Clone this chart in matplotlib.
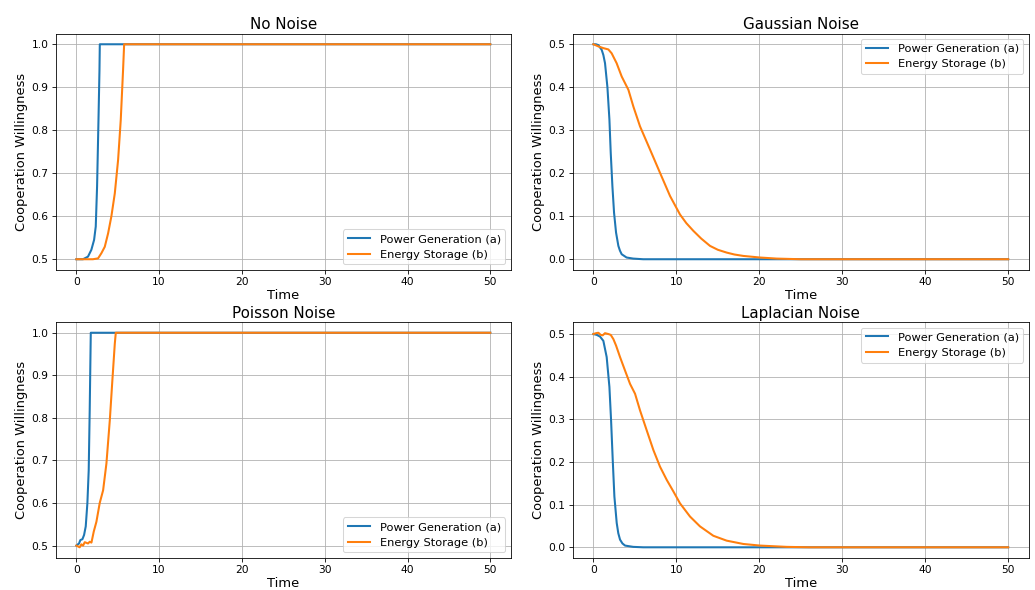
import matplotlib
matplotlib.use("Agg")
import matplotlib.pyplot as plt

# ---- No Noise ----
t_none_a = [0.0, 0.8, 1.4, 1.81, 2.14, 2.34, 2.5, 2.67, 2.79, 2.83, 50.0]
v_none_a = [0.5, 0.5, 0.506, 0.522, 0.545, 0.576, 0.669, 0.824, 0.94, 1.0, 1.0]
t_none_b = [0.0, 2.0, 2.62, 3.02, 3.43, 3.83, 4.23, 4.64, 5.04, 5.36, 5.64, 5.77, 50.0]
v_none_b = [0.5, 0.5, 0.502, 0.514, 0.529, 0.56, 0.60, 0.653, 0.731, 0.824, 0.94, 1.0, 1.0]

# ---- Gaussian Noise ----
t_gauss_a = [0.0, 0.3, 0.6, 1.0, 1.2, 1.4, 1.69, 1.93, 2.09, 2.29, 2.49, 2.73, 3.01, 3.2,
             3.41, 4.0, 4.8, 6.0, 50.0]
v_gauss_a = [0.5, 0.5, 0.498, 0.487, 0.475, 0.456, 0.40, 0.325, 0.247, 0.17, 0.108, 0.062,
             0.031, 0.02, 0.0116, 0.004, 0.0015, 0.0, 0.0]
t_gauss_b = [0.0, 0.6, 1.2, 1.8, 2.2, 2.8, 3.41, 4.22, 4.82, 5.62, 6.83, 8.03, 9.24, 10.44,
             11.2, 12.05, 13.0, 14.06, 15.0, 16.06, 17.0, 18.07, 20.08, 22.1, 25.0, 50.0]
v_gauss_b = [0.5, 0.495, 0.491, 0.488, 0.479, 0.456, 0.425, 0.394, 0.355, 0.309, 0.255, 0.201,
             0.147, 0.104, 0.084, 0.066, 0.048, 0.031, 0.022, 0.0155, 0.011, 0.0077, 0.004,
             0.0015, 0.0, 0.0]

# ---- Poisson Noise ----
t_pois_a = [0.0, 0.32, 0.48, 0.73, 0.93, 1.13, 1.33, 1.49, 1.61, 1.74, 50.0]
v_pois_a = [0.5, 0.505, 0.513, 0.515, 0.525, 0.545, 0.6, 0.677, 0.818, 1.0, 1.0]
t_pois_b = [0.0, 0.2, 0.4, 0.6, 0.81, 1.01, 1.41, 1.61, 1.82, 2.1, 2.42, 2.82, 3.23, 3.63,
            4.04, 4.32, 4.64, 4.76, 50.0]
v_pois_b = [0.5, 0.498, 0.496, 0.503, 0.5, 0.508, 0.505, 0.509, 0.507, 0.533, 0.556, 0.6,
            0.63, 0.693, 0.795, 0.88, 0.974, 1.0, 1.0]

# ---- Laplacian Noise ----
t_lap_a = [0.0, 0.4, 0.8, 1.2, 1.6, 1.93, 2.13, 2.33, 2.53, 2.81, 3.0, 3.21, 3.5, 3.82, 4.8,
           6.0, 50.0]
v_lap_a = [0.5, 0.498, 0.494, 0.484, 0.446, 0.376, 0.298, 0.205, 0.119, 0.057, 0.033, 0.018,
           0.009, 0.004, 0.001, 0.0, 0.0]
t_lap_b = [0.0, 0.32, 0.6, 0.88, 1.12, 1.4, 1.8, 2.09, 2.41, 2.73, 3.21, 3.82, 4.42, 5.02,
           5.62, 6.43, 7.23, 8.03, 8.84, 9.64, 10.44, 11.65, 12.85, 14.46, 16.06, 18.07,
           20.1, 23.3, 26.0, 50.0]
v_lap_b = [0.5, 0.502, 0.503, 0.498, 0.497, 0.502, 0.5, 0.498, 0.488, 0.473, 0.446, 0.414,
           0.383, 0.36, 0.321, 0.274, 0.228, 0.189, 0.158, 0.131, 0.103, 0.072, 0.049, 0.027,
           0.0156, 0.0078, 0.004, 0.001, 0.0, 0.0]

titles = ["No Noise", "Gaussian Noise", "Poisson Noise", "Laplacian Noise"]
series_labels = ["Power Generation (a)", "Energy Storage (b)"]
panels = [
    (t_none_a, v_none_a, t_none_b, v_none_b, "lower right"),
    (t_gauss_a, v_gauss_a, t_gauss_b, v_gauss_b, "upper right"),
    (t_pois_a, v_pois_a, t_pois_b, v_pois_b, "lower right"),
    (t_lap_a, v_lap_a, t_lap_b, v_lap_b, "upper right"),
]

fig = plt.figure(figsize=(1035 / 74, 590 / 74), dpi=74)
rects = [
    [0.0538, 0.5424, 0.4399, 0.4008],
    [0.5533, 0.5424, 0.4408, 0.4008],
    [0.0538, 0.0542, 0.4399, 0.4000],
    [0.5533, 0.0542, 0.4408, 0.4000],
]

for rect, title, (ta, va, tb, vb, loc) in zip(rects, titles, panels):
    ax = fig.add_axes(rect)
    ax.plot(ta, va, color="#1f77b4", linewidth=2, label=series_labels[0])
    ax.plot(tb, vb, color="#ff7f0e", linewidth=2, label=series_labels[1])
    ax.set_title(title, fontsize=14.7, pad=4)
    ax.set_xlabel("Time", fontsize=12.6, labelpad=1.5)
    ax.set_ylabel("Cooperation Willingness", fontsize=12.6, labelpad=3)
    ax.tick_params(labelsize=10.3)
    ax.grid(True)
    ax.legend(loc=loc, fontsize=11.1)

fig.savefig("out.png", dpi=74)
